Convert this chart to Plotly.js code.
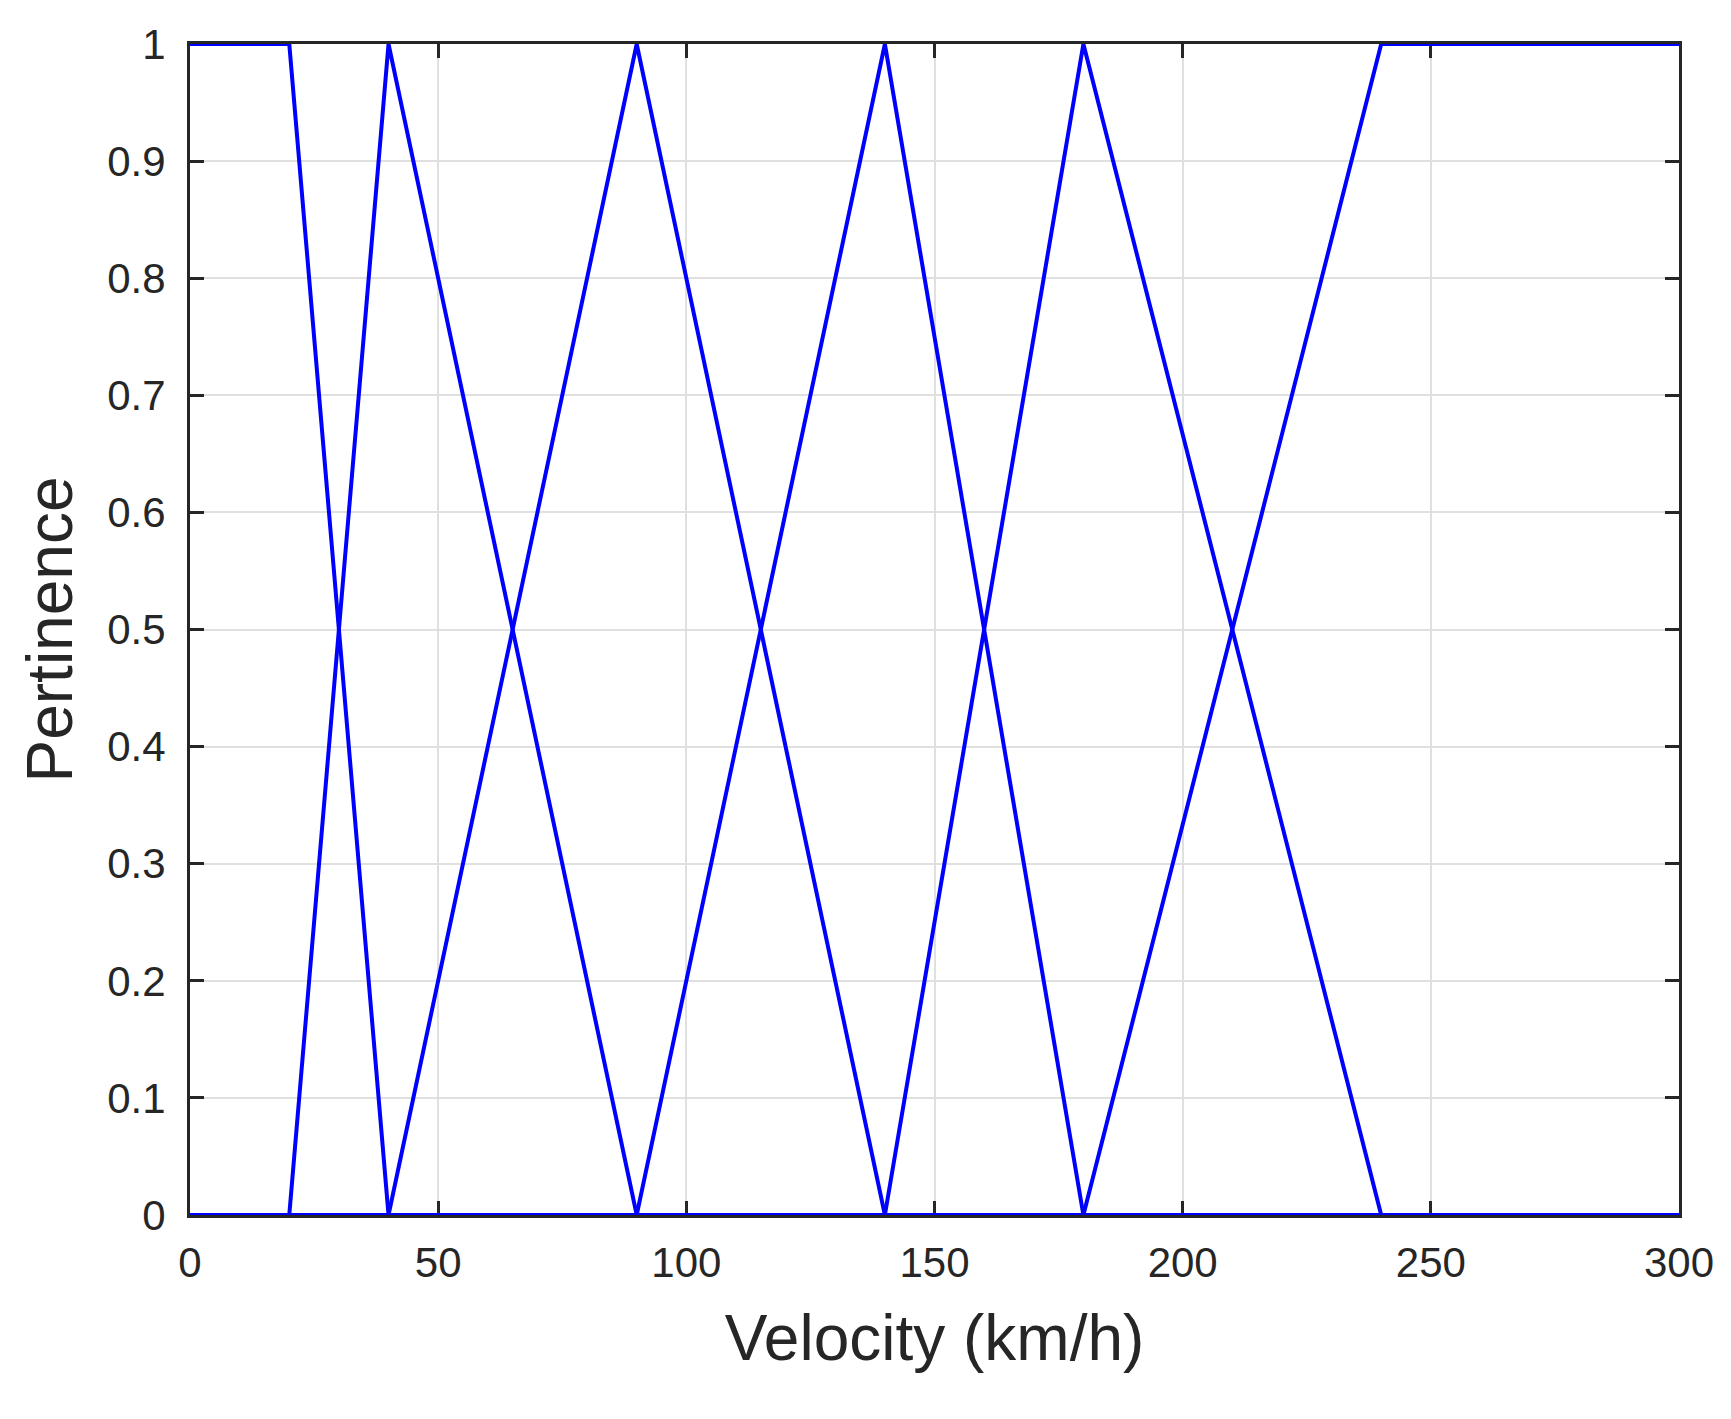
<!DOCTYPE html>
<html>
<head>
<meta charset="utf-8">
<script src="https://cdn.plot.ly/plotly-3.0.1.min.js"></script>
<style>html,body{margin:0;padding:0;background:#fff;}#chart{width:1731px;height:1419px;}</style>
</head>
<body>
<div id="chart"></div>
<script>
// Membership functions over velocity (km/h), each drawn across the whole 0-300 range
const mf1X = [0, 20, 40, 300];
const mf1Y = [1, 1, 0, 0];
const mf2X = [0, 20, 40, 90, 300];
const mf2Y = [0, 0, 1, 0, 0];
const mf3X = [0, 40, 90, 140, 300];
const mf3Y = [0, 0, 1, 0, 0];
const mf4X = [0, 90, 140, 180, 300];
const mf4Y = [0, 0, 1, 0, 0];
const mf5X = [0, 140, 180, 240, 300];
const mf5Y = [0, 0, 1, 0, 0];
const mf6X = [0, 180, 240, 300];
const mf6Y = [0, 0, 1, 1];

const xTicks = [0, 50, 100, 150, 200, 250, 300];
const xTickLabels = ['0', '50', '100', '150', '200', '250', '300'];
const yTicks = [0, 0.1, 0.2, 0.3, 0.4, 0.5, 0.6, 0.7, 0.8, 0.9, 1];
const yTickLabels = ['0', '0.1', '0.2', '0.3', '0.4', '0.5', '0.6', '0.7', '0.8', '0.9', '1'];

const series = [[mf1X, mf1Y], [mf2X, mf2Y], [mf3X, mf3Y], [mf4X, mf4Y], [mf5X, mf5Y], [mf6X, mf6Y]];
const traces = series.map(([x, y]) => ({
  x: x, y: y, type: 'scatter', mode: 'lines',
  line: {color: '#0000ff', width: 4},
  cliponaxis: false, showlegend: false, hoverinfo: 'skip'
}));

const axisCommon = {
  showline: true, linecolor: '#262626', linewidth: 3, mirror: 'ticks',
  ticks: 'inside', ticklen: 14, tickwidth: 3, tickcolor: '#262626',
  showgrid: true, gridcolor: '#e0e0e0', gridwidth: 2,
  zeroline: false, layer: 'below traces',
  tickfont: {family: 'Liberation Sans, Arial, sans-serif', size: 42, color: '#262626'}
};

const layout = {
  width: 1731, height: 1419,
  margin: {l: 190, r: 52, t: 44, b: 204},
  paper_bgcolor: '#ffffff', plot_bgcolor: '#ffffff',
  font: {family: 'Liberation Sans, Arial, sans-serif', color: '#262626'},
  xaxis: Object.assign({}, axisCommon, {
    range: [0, 300], tickmode: 'array', tickvals: xTicks, ticktext: xTickLabels,
    ticklabelstandoff: 9,
    title: {text: 'Velocity (km/h)', font: {size: 64, color: '#262626'}, standoff: 30}
  }),
  yaxis: Object.assign({}, axisCommon, {
    range: [0, 1], tickmode: 'array', tickvals: yTicks, ticktext: yTickLabels,
    ticklabelstandoff: 13,
    title: {text: 'Pertinence', font: {size: 64, color: '#262626'}, standoff: 14}
  })
};

Plotly.newPlot('chart', traces, layout, {displayModeBar: false, staticPlot: true});
</script>
</body>
</html>
